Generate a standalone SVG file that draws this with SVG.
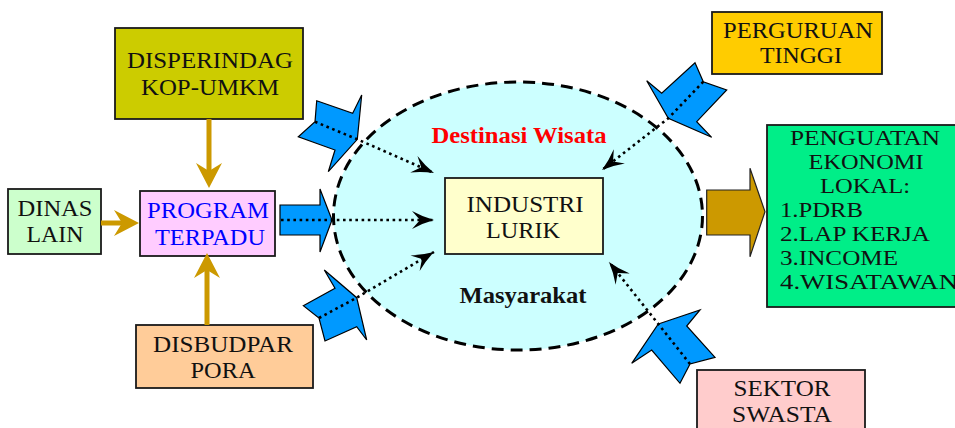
<svg xmlns="http://www.w3.org/2000/svg" width="955" height="428" viewBox="0 0 955 428">
<defs>
<style>
.box{stroke:#1a1a1a;stroke-width:1.8}
.t{font-family:"Liberation Serif","Times New Roman",serif;font-size:24px;fill:#111;text-anchor:middle}
.s{font-size:21px}
.tl{text-anchor:start}
.blue{fill:#0099FF;stroke:#000;stroke-width:1.2;stroke-linejoin:miter}
.dot{fill:none;stroke:#000;stroke-width:2.6;stroke-dasharray:2.6 3.6}
.gold{fill:none;stroke:#CC9900;stroke-width:5}
</style>
<marker id="blk" markerUnits="userSpaceOnUse" viewBox="-24 -11 26 22" refX="0" refY="0" markerWidth="26" markerHeight="22" orient="auto">
<path d="M0,0 Q-11,-3 -22,-9 L-14,0 L-22,9 Q-11,3 0,0 Z" fill="#000"/>
</marker>
<marker id="gld" markerUnits="userSpaceOnUse" viewBox="-10 -14 30 28" refX="0" refY="0" markerWidth="30" markerHeight="28" orient="auto">
<path d="M17,0 L-8,-13 L0,0 L-8,13 Z" fill="#CC9900"/>
</marker>
</defs>

<rect width="955" height="428" fill="#fff"/>

<g id="ellipse">
<ellipse cx="518" cy="216" rx="184.5" ry="134" fill="#CCFFFF" stroke="#000" stroke-width="3" stroke-dasharray="12 7"/>
<text class="t" x="519" y="143" font-weight="bold" style="fill:#FF0000" textLength="175" lengthAdjust="spacingAndGlyphs">Destinasi Wisata</text>
<text class="t" x="523" y="303" font-weight="bold" textLength="127" lengthAdjust="spacingAndGlyphs">Masyarakat</text>
</g>

<g id="disperindag">
<rect class="box" x="115" y="28" width="188" height="91" fill="#CCCC00"/>
<text class="t" x="210" y="68" textLength="166" lengthAdjust="spacingAndGlyphs">DISPERINDAG</text>
<text class="t" x="210" y="95" textLength="138" lengthAdjust="spacingAndGlyphs">KOP-UMKM</text>
</g>

<g id="dinas-lain">
<rect class="box" x="8" y="189" width="93" height="65" fill="#CCFFCC"/>
<text class="t" x="55" y="216" textLength="75" lengthAdjust="spacingAndGlyphs">DINAS</text>
<text class="t" x="55" y="242" textLength="57" lengthAdjust="spacingAndGlyphs">LAIN</text>
</g>

<g id="program-terpadu">
<rect class="box" x="140" y="191" width="135" height="65" fill="#FFCCFF"/>
<text class="t" x="208" y="218" style="fill:#0000FF" textLength="122" lengthAdjust="spacingAndGlyphs">PROGRAM</text>
<text class="t" x="210" y="245" style="fill:#0000FF" textLength="110" lengthAdjust="spacingAndGlyphs">TERPADU</text>
</g>

<g id="disbudpar">
<rect class="box" x="136" y="325" width="177" height="63" fill="#FFCC99"/>
<text class="t" x="223" y="352" textLength="140" lengthAdjust="spacingAndGlyphs">DISBUDPAR</text>
<text class="t" x="223" y="378" textLength="65" lengthAdjust="spacingAndGlyphs">PORA</text>
</g>

<g id="industri-lurik">
<rect class="box" x="445" y="178" width="158" height="76" fill="#FFFFCC"/>
<text class="t" x="525" y="212" textLength="117" lengthAdjust="spacingAndGlyphs">INDUSTRI</text>
<text class="t" x="523" y="238" textLength="74" lengthAdjust="spacingAndGlyphs">LURIK</text>
</g>

<g id="perguruan-tinggi">
<rect class="box" x="712" y="12" width="170" height="62" fill="#FFCC00"/>
<text class="t" x="798" y="38" textLength="150" lengthAdjust="spacingAndGlyphs">PERGURUAN</text>
<text class="t" x="801" y="63" textLength="82" lengthAdjust="spacingAndGlyphs">TINGGI</text>
</g>

<g id="sektor-swasta">
<rect class="box" x="697" y="370" width="168" height="70" fill="#FFCCCC"/>
<text class="t" x="782" y="396" textLength="97" lengthAdjust="spacingAndGlyphs">SEKTOR</text>
<text class="t" x="782" y="422" textLength="100" lengthAdjust="spacingAndGlyphs">SWASTA</text>
</g>

<g id="penguatan">
<rect class="box" x="767" y="125" width="200" height="182" fill="#00EE88"/>
<text class="t s" x="865" y="145" textLength="150" lengthAdjust="spacingAndGlyphs">PENGUATAN</text>
<text class="t s" x="866" y="169" textLength="115" lengthAdjust="spacingAndGlyphs">EKONOMI</text>
<text class="t s" x="865" y="193" textLength="90" lengthAdjust="spacingAndGlyphs">LOKAL:</text>
<text class="t s tl" x="780" y="217" textLength="83" lengthAdjust="spacingAndGlyphs">1.PDRB</text>
<text class="t s tl" x="780" y="241" textLength="150" lengthAdjust="spacingAndGlyphs">2.LAP KERJA</text>
<text class="t s tl" x="780" y="265" textLength="118" lengthAdjust="spacingAndGlyphs">3.INCOME</text>
<text class="t s tl" x="780" y="289" textLength="178" lengthAdjust="spacingAndGlyphs">4.WISATAWAN</text>
</g>

<g id="connectors">
<line class="gold" x1="209" y1="119" x2="209" y2="171" marker-end="url(#gld)"/>
<line class="gold" x1="101" y1="223" x2="122" y2="223" marker-end="url(#gld)"/>
<line class="gold" x1="207" y1="325" x2="207" y2="270" marker-end="url(#gld)"/>

<polygon class="blue" points="316.7,100.7 352.7,113.3 361.7,95 357.3,139.3 328.3,171.7 335,150 298.3,136.7 315,121.7"/>
<polygon class="blue" points="280,205 320,205 320,189 332,220 320,252 320,235 280,235"/>
<polygon class="blue" points="303.3,305.7 335,288.3 324.3,270 356.7,297.7 366.7,340 356.7,326.7 325,341 319,318"/>
<polygon class="blue" points="695,62.7 703.3,81.7 726.7,90 696.7,121.7 711.7,137.3 668.3,118.3 646.7,80.7 661.7,93.3"/>
<polygon class="blue" points="658.3,324 700,310 686.7,326 715,357.3 690,364 680,383.3 651.7,350 631.7,363.3"/>
<polygon points="706.7,190 750,190 750,168.3 765,211.7 750,256.7 750,235 706.7,235" fill="#CC9900" stroke="#222" stroke-width="1.2"/>

<polyline class="dot" points="315,121.7 357.3,139.3 434,173" marker-end="url(#blk)"/>
<polyline class="dot" points="281,220 434,220" marker-end="url(#blk)"/>
<polyline class="dot" points="319,318 356.7,297.7 434,252" marker-end="url(#blk)"/>
<polyline class="dot" points="703.3,81.7 668.3,118.3 602,170" marker-end="url(#blk)"/>
<polyline class="dot" points="690,364 658.3,324 609,262" marker-end="url(#blk)"/>
</g>
</svg>
